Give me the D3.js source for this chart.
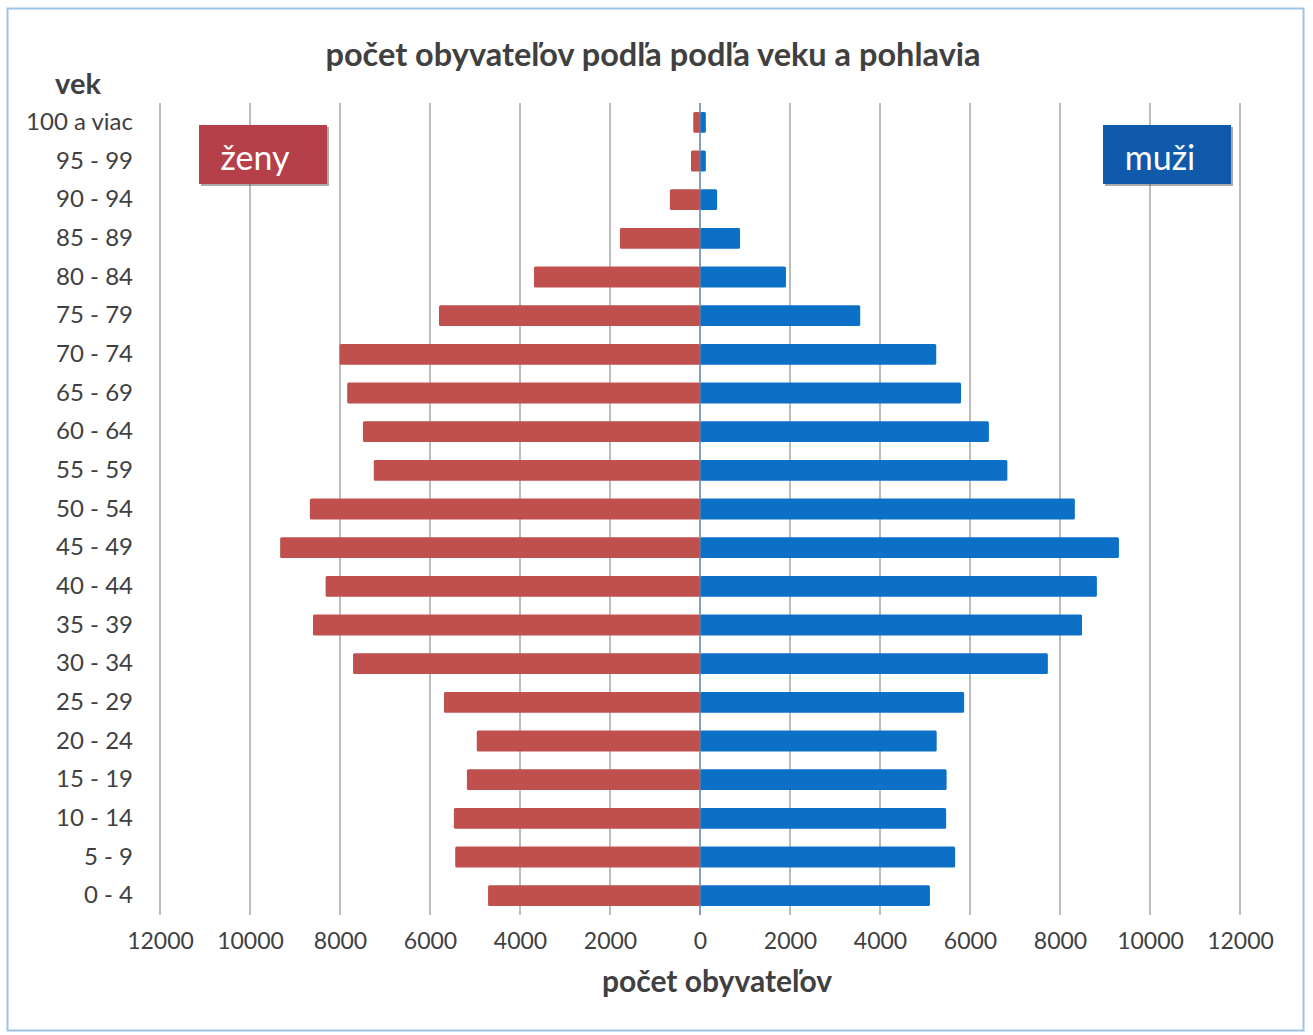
<!DOCTYPE html>
<html><head><meta charset="utf-8">
<script src="https://cdn.jsdelivr.net/npm/d3@7"></script>
<style>body{margin:0;background:#fff}</style>
</head><body>
<script>
const ageGroups = ["100 a viac","95 - 99","90 - 94","85 - 89","80 - 84","75 - 79","70 - 74","65 - 69","60 - 64","55 - 59","50 - 54","45 - 49","40 - 44","35 - 39","30 - 34","25 - 29","20 - 24","15 - 19","10 - 14","5 - 9","0 - 4"];
const women = [150,200,670,1780,3690,5800,8010,7840,7490,7250,8670,9330,8320,8600,7710,5690,4960,5180,5470,5440,4710];
const men   = [130,130,380,890,1910,3560,5250,5800,6420,6830,8330,9310,8820,8490,7730,5870,5260,5480,5470,5670,5110];
const tickValues = [-12000,-10000,-8000,-6000,-4000,-2000,0,2000,4000,6000,8000,10000,12000];
const titleText = "počet obyvateľov podľa podľa veku a pohlavia";
const xTitle = "počet obyvateľov";
const yTitle = "vek";
const legendWomen = "ženy", legendMen = "muži";

const W = 1313, H = 1035;
const svg = d3.select("body").append("svg").attr("width", W).attr("height", H);
const font = "Lato, 'Open Sans', sans-serif";

svg.append("rect").attr("x",7.5).attr("y",8.5).attr("width",1296).attr("height",1022)
  .attr("fill","#fff").attr("stroke","#9dc3e6").attr("stroke-width",2);

const x = d3.scaleLinear().domain([-12000,12000]).range([160,1240]);
const y = d3.scaleBand().domain(ageGroups).range([103,915]).paddingInner(0.46).paddingOuter(0.23);

// gridlines
svg.append("g").selectAll("line").data(tickValues.filter(d=>d!==0)).join("line")
  .attr("x1",d=>x(d)).attr("x2",d=>x(d)).attr("y1",103).attr("y2",915)
  .attr("stroke","#a6a6a6").attr("stroke-width",1.5);

// bars
svg.append("g").selectAll("rect").data(ageGroups).join("rect")
  .attr("x",(d,i)=>x(-women[i])).attr("y",d=>y(d))
  .attr("width",(d,i)=>x(0)-x(-women[i])).attr("height",y.bandwidth())
  .attr("fill","#c0504d").attr("rx",1.5);
svg.append("g").selectAll("rect").data(ageGroups).join("rect")
  .attr("x",x(0)).attr("y",d=>y(d))
  .attr("width",(d,i)=>x(men[i])-x(0)).attr("height",y.bandwidth())
  .attr("fill","#0b70c6").attr("rx",1.5);

// zero line
svg.append("line").attr("x1",x(0)).attr("x2",x(0)).attr("y1",103).attr("y2",915)
  .attr("stroke","#5b7fa8").attr("stroke-width",1.5);

// y labels
const yAxis = d3.axisLeft(y).tickSize(0).tickPadding(0);
const gy = svg.append("g").attr("transform","translate(133,0)").call(yAxis);
gy.select(".domain").remove();
gy.selectAll("text").attr("font-family",font).attr("font-size",24).attr("fill","#404040");

// x labels
const xAxis = d3.axisBottom(x).tickValues(tickValues).tickFormat(d=>Math.abs(d)).tickSize(0).tickPadding(0);
const gx = svg.append("g").attr("transform","translate(0,933)").call(xAxis);
gx.select(".domain").remove();
gx.selectAll("text").attr("font-family",font).attr("font-size",23).attr("fill","#404040");

// titles
svg.append("text").attr("x",653).attr("y",66).attr("text-anchor","middle")
  .attr("font-family",font).attr("font-weight","bold").attr("font-size",32.5).attr("fill","#404040").text(titleText);
svg.append("text").attr("x",717).attr("y",992).attr("text-anchor","middle")
  .attr("font-family",font).attr("font-weight","bold").attr("font-size",30).attr("fill","#404040").text(xTitle);
svg.append("text").attr("x",78).attr("y",94).attr("text-anchor","middle")
  .attr("font-family",font).attr("font-weight","bold").attr("font-size",29).attr("fill","#404040").text(yTitle);

// legend boxes
const legends = [{t:legendWomen,x:199,tx:255,fill:"#b5404a"},{t:legendMen,x:1103,tx:1160,fill:"#0f5aaa"}];
legends.forEach(l=>{
  svg.append("rect").attr("x",l.x+2).attr("y",127).attr("width",128).attr("height",59).attr("fill","#555").attr("opacity",0.5);
  svg.append("rect").attr("x",l.x).attr("y",125).attr("width",128).attr("height",59).attr("fill",l.fill);
  svg.append("text").attr("x",l.tx).attr("y",170).attr("text-anchor","middle")
    .attr("font-family",font).attr("font-size",34).attr("fill","#fff").text(l.t);
});
</script>
</body></html>
